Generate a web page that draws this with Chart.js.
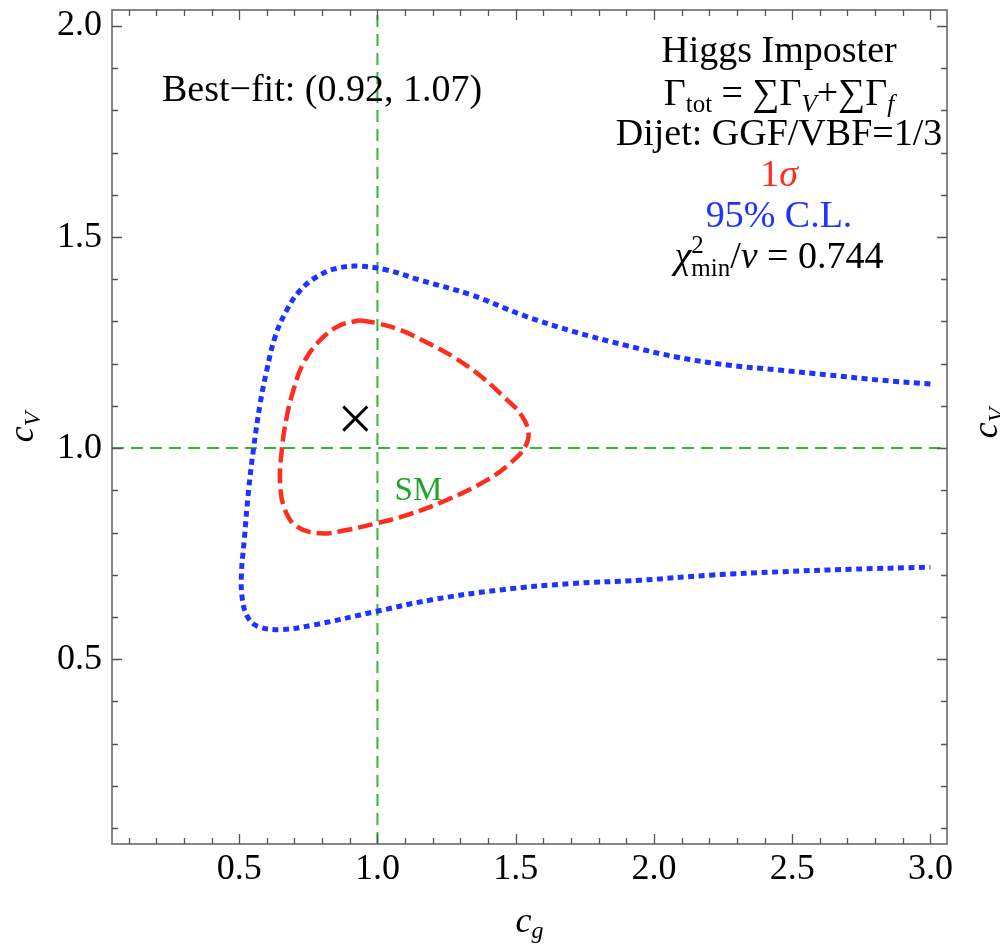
<!DOCTYPE html>
<html>
<head>
<meta charset="utf-8">
<script src="https://cdn.jsdelivr.net/npm/chart.js@4.4.1/dist/chart.umd.min.js"></script>
<style>
  html, body { margin: 0; padding: 0; background: #fff; }
  canvas { display: block; }
</style>
</head>
<body>
<canvas id="fit" width="1000" height="947"></canvas>
<script>
// Axis ranges and labelled ticks
const cgRange = [0.04, 3.06];
const cVRange = [0.062, 2.038];
const cgTickLabels = [0.5, 1.0, 1.5, 2.0, 2.5, 3.0];
const cVTickLabels = [0.5, 1.0, 1.5, 2.0];

// Standard Model point and best-fit point
const smPoint = [1.0, 1.0];
const bestFit = [0.92, 1.07];
const chi2PerDof = 0.744;

// 1 sigma contour (closed loop), [c_g, c_V]
const sigma1Contour = [
  [0.937, 1.303], [0.998, 1.296], [1.082, 1.280], [1.179, 1.250], [1.275, 1.216],
  [1.371, 1.172], [1.456, 1.122], [1.516, 1.082], [1.546, 1.039], [1.534, 1.003],
  [1.480, 0.964], [1.396, 0.924], [1.251, 0.877], [1.106, 0.841], [0.998, 0.822],
  [0.889, 0.806], [0.793, 0.798], [0.709, 0.814], [0.666, 0.853], [0.648, 0.916],
  [0.654, 0.995], [0.672, 1.074], [0.696, 1.137], [0.732, 1.201], [0.793, 1.256],
  [0.865, 1.291], [0.937, 1.303]
];

// 95% C.L. contour (open towards large c_g), [c_g, c_V]
const cl95Contour = [
  [3.000, 1.152], [2.820, 1.161], [2.635, 1.173], [2.450, 1.185], [2.265, 1.197],
  [2.080, 1.216], [1.895, 1.244], [1.710, 1.276], [1.525, 1.315], [1.339, 1.363],
  [1.154, 1.398], [1.034, 1.422], [0.937, 1.431], [0.853, 1.426], [0.781, 1.406],
  [0.721, 1.374], [0.672, 1.327], [0.630, 1.264], [0.600, 1.185], [0.576, 1.106],
  [0.552, 0.999], [0.534, 0.900], [0.518, 0.780], [0.508, 0.700], [0.512, 0.640],
  [0.532, 0.598], [0.570, 0.577], [0.651, 0.570], [0.769, 0.581], [0.989, 0.612],
  [1.192, 0.640], [1.445, 0.664], [1.698, 0.679], [1.952, 0.687], [2.205, 0.699],
  [2.458, 0.707], [2.712, 0.713], [3.000, 0.718]
];

const SERIF = '"Liberation Serif", "Times New Roman", "DejaVu Serif", serif';
const RED = '#ff2d1f';
const BLUE = '#1f33ff';
const GREEN = '#33b833';
const SM_GREEN = '#1fa52a';
const FRAME = '#6a6a6a';
const TXT = 38;   // annotation text size
const SUB = 25;   // sub/superscript size

const toPts = arr => arr.map(([x, y]) => ({ x, y }));

// Rich text: a list of pieces, each with its own size, style, offset and colour
function fontOf(p) {
  return (p.it ? 'italic ' : '') + (p.s || TXT) + 'px ' + SERIF;
}
function drawRich(ctx, parts, cx, baseY) {
  const widths = parts.map(p => { ctx.font = fontOf(p); return ctx.measureText(p.t).width; });
  let total = 0;
  parts.forEach((p, i) => { if (!p.stack) total += widths[i]; });
  let x = cx - total / 2;
  ctx.textAlign = 'left';
  ctx.textBaseline = 'alphabetic';
  parts.forEach((p, i) => {
    ctx.font = fontOf(p);
    ctx.fillStyle = p.c || '#000';
    ctx.fillText(p.t, x, baseY + (p.dy || 0));
    if (!p.stack) x += widths[i];
  });
}

// Frame with inward major/minor ticks on all four sides
const framePlugin = {
  id: 'frame',
  afterDraw(chart) {
    const { ctx, chartArea: a, scales: { x, y } } = chart;
    ctx.save();
    ctx.strokeStyle = FRAME;
    ctx.lineWidth = 1.6;
    ctx.strokeRect(a.left, a.top, a.right - a.left, a.bottom - a.top);
    ctx.lineWidth = 1.3;
    ctx.strokeStyle = '#555';
    ctx.beginPath();
    for (let k = 1; k * 0.1 <= cgRange[1]; k++) {
      const v = k / 10;
      if (v < cgRange[0]) continue;
      const len = (k % 5 === 0) ? 10 : 6;
      const px = Math.round(x.getPixelForValue(v)) + 0.5;
      ctx.moveTo(px, a.bottom); ctx.lineTo(px, a.bottom - len);
      ctx.moveTo(px, a.top); ctx.lineTo(px, a.top + len);
    }
    for (let k = 1; k * 0.1 <= cVRange[1]; k++) {
      const v = k / 10;
      if (v < cVRange[0]) continue;
      const len = (k % 5 === 0) ? 10 : 6;
      const py = Math.round(y.getPixelForValue(v)) + 0.5;
      ctx.moveTo(a.left, py); ctx.lineTo(a.left + len, py);
      ctx.moveTo(a.right, py); ctx.lineTo(a.right - len, py);
    }
    ctx.stroke();
    ctx.restore();
  }
};

// Text labels: annotations, axis titles
const textPlugin = {
  id: 'texts',
  afterDraw(chart) {
    const { ctx, chartArea: a, scales: { x, y } } = chart;
    ctx.save();

    // Best-fit label
    drawRich(ctx, [{ t: 'Best\u2212fit: (' + bestFit[0].toFixed(2) + ', ' + bestFit[1].toFixed(2) + ')' }], 322, 101);

    // Annotation block, top right
    const cx = 779;
    drawRich(ctx, [{ t: 'Higgs Imposter' }], cx, 62);
    drawRich(ctx, [
      { t: '\u0393' }, { t: 'tot', s: SUB, dy: 7 }, { t: ' = ' },
      { t: '\u2211' }, { t: '\u0393' }, { t: 'V', s: SUB, it: true, dy: 7 }, { t: '+' },
      { t: '\u2211' }, { t: '\u0393' }, { t: 'f', s: SUB, it: true, dy: 7 }
    ], cx, 105);
    drawRich(ctx, [{ t: 'Dijet: GGF/VBF=1/3' }], cx, 145);
    drawRich(ctx, [{ t: '1', c: RED }, { t: '\u03c3', it: true, c: RED }], cx, 186);
    drawRich(ctx, [{ t: '95% C.L.', c: BLUE }], cx, 227);
    drawRich(ctx, [
      { t: '\u03c7', it: true }, { t: '2', s: SUB, dy: -15, stack: true }, { t: 'min', s: SUB, dy: 8 },
      { t: '/' }, { t: '\u03bd', it: true }, { t: ' = ' + chi2PerDof.toFixed(3) }
    ], cx, 268);

    // SM label next to the Standard Model point
    drawRich(ctx, [{ t: 'SM', s: 33, c: SM_GREEN }],
      x.getPixelForValue(smPoint[0]) + 41, y.getPixelForValue(smPoint[1]) + 52);

    // Axis titles
    drawRich(ctx, [{ t: 'c', it: true, s: 36 }, { t: 'g', s: 24, it: true, dy: 6 }], (a.left + a.right) / 2, 932);
    ctx.save();
    ctx.translate(33, (a.top + a.bottom) / 2);
    ctx.rotate(-Math.PI / 2);
    drawRich(ctx, [{ t: 'c', it: true, s: 36 }, { t: 'V', s: 24, it: true, dy: 7 }], 0, 0);
    ctx.restore();
    // neighbouring panel's axis title, cut by the page edge
    ctx.save();
    ctx.translate(997, 423);
    ctx.rotate(-Math.PI / 2);
    drawRich(ctx, [{ t: 'c', it: true, s: 36 }, { t: 'V', s: 24, it: true, dy: 7 }], 0, 0);
    ctx.restore();

    ctx.restore();
  }
};

new Chart(document.getElementById('fit'), {
  type: 'scatter',
  data: {
    datasets: [
      {
        label: 'c_g = 1',
        data: [{ x: smPoint[0], y: cVRange[0] }, { x: smPoint[0], y: cVRange[1] }],
        showLine: true, borderColor: GREEN, borderWidth: 2, borderDash: [12, 7],
        pointRadius: 0, order: 6
      },
      {
        label: 'c_V = 1',
        data: [{ x: cgRange[0], y: smPoint[1] }, { x: cgRange[1], y: smPoint[1] }],
        showLine: true, borderColor: GREEN, borderWidth: 2, borderDash: [12, 7],
        pointRadius: 0, order: 5
      },
      {
        label: '95% C.L.',
        data: toPts(cl95Contour),
        showLine: true, borderColor: BLUE, borderWidth: 5, borderDash: [6, 4.5],
        borderCapStyle: 'butt', tension: 0.4, pointRadius: 0, order: 3
      },
      {
        label: '1 sigma',
        data: toPts(sigma1Contour),
        showLine: true, borderColor: RED, borderWidth: 4.5, borderDash: [15, 6],
        borderCapStyle: 'butt', tension: 0.4, pointRadius: 0, order: 2
      },
      {
        label: 'Best fit',
        data: [{ x: bestFit[0], y: bestFit[1] }],
        pointStyle: 'crossRot', pointRadius: 17, borderColor: '#000',
        pointBorderColor: '#000', pointBorderWidth: 3, order: 1
      }
    ]
  },
  options: {
    responsive: false,
    animation: false,
    devicePixelRatio: 1,
    layout: { autoPadding: false, padding: { top: 10, right: 53, left: 0, bottom: 0 } },
    plugins: { legend: { display: false }, tooltip: { enabled: false } },
    scales: {
      x: {
        type: 'linear', min: cgRange[0], max: cgRange[1],
        afterBuildTicks: s => { s.ticks = cgTickLabels.map(v => ({ value: v })); },
        afterFit: s => { s.height = 103; s.paddingLeft = 0; s.paddingRight = 0; },
        grid: { display: false, drawTicks: false },
        border: { display: false },
        ticks: {
          font: { family: SERIF, size: 36 }, color: '#000', padding: 4, maxRotation: 0, autoSkip: false,
          callback: v => Number(v).toFixed(1)
        }
      },
      y: {
        type: 'linear', min: cVRange[0], max: cVRange[1],
        afterBuildTicks: s => { s.ticks = cVTickLabels.map(v => ({ value: v })); },
        afterFit: s => { s.width = 112; s.paddingTop = 0; s.paddingBottom = 0; },
        grid: { display: false, drawTicks: false },
        border: { display: false },
        ticks: {
          font: { family: SERIF, size: 36, lineHeight: 0.01 }, color: '#000', padding: 10, autoSkip: false,
          callback: v => Number(v).toFixed(1)
        }
      }
    }
  },
  plugins: [framePlugin, textPlugin]
});
</script>
</body>
</html>
